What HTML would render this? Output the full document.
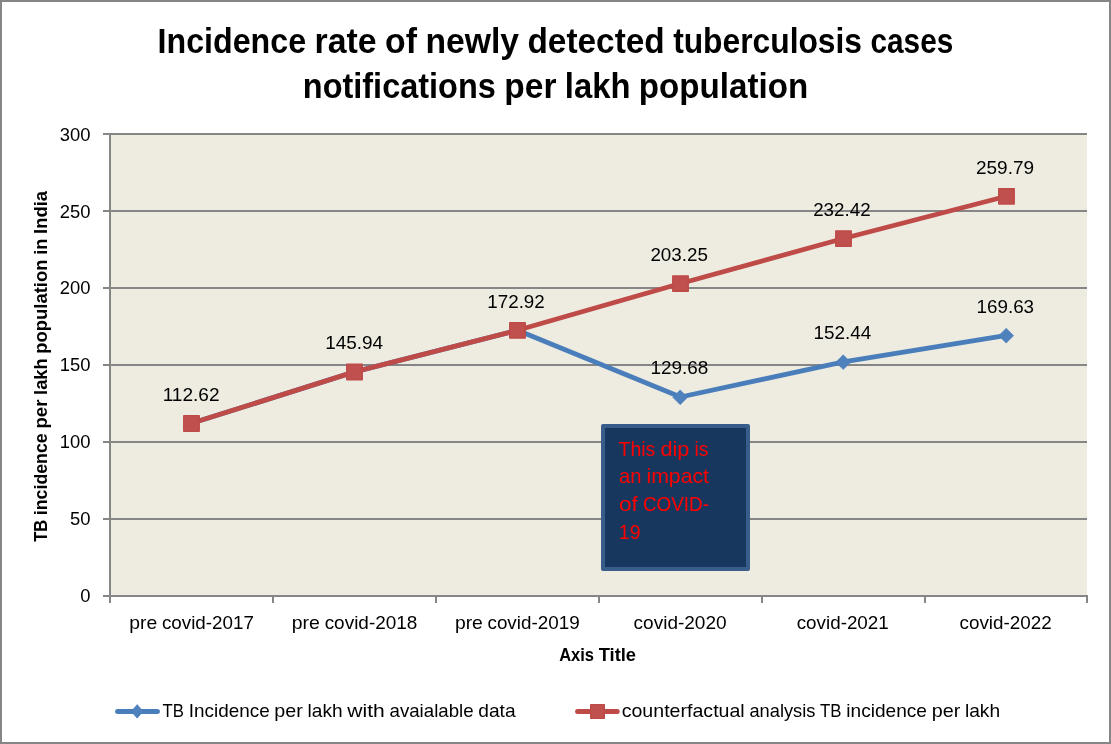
<!DOCTYPE html>
<html lang="en"><head><meta charset="utf-8"><title>Incidence rate of newly detected tuberculosis cases</title>
<style>html,body{margin:0;padding:0;background:#fff;}svg{display:block;}text{font-family:"Liberation Sans",sans-serif;fill:#000;}.b{font-weight:bold;}</style></head><body>
<svg width="1111" height="744" viewBox="0 0 1111 744">
<rect x="0" y="0" width="1111" height="744" fill="#fff"/>
<rect x="1" y="1" width="1109" height="742" fill="none" stroke="#868686" stroke-width="2"/>
<rect x="110.0" y="134.0" width="977.0" height="462.0" fill="#EEECE1"/>
<line x1="103.0" y1="596.0" x2="1088.0" y2="596.0" stroke="#868686" stroke-width="2"/>
<line x1="103.0" y1="519.0" x2="1087.0" y2="519.0" stroke="#868686" stroke-width="2"/>
<line x1="103.0" y1="442.0" x2="1087.0" y2="442.0" stroke="#868686" stroke-width="2"/>
<line x1="103.0" y1="365.0" x2="1087.0" y2="365.0" stroke="#868686" stroke-width="2"/>
<line x1="103.0" y1="288.0" x2="1087.0" y2="288.0" stroke="#868686" stroke-width="2"/>
<line x1="103.0" y1="211.0" x2="1087.0" y2="211.0" stroke="#868686" stroke-width="2"/>
<line x1="103.0" y1="134.0" x2="1087.0" y2="134.0" stroke="#868686" stroke-width="2"/>
<line x1="110.0" y1="133.0" x2="110.0" y2="603.0" stroke="#868686" stroke-width="2"/>
<line x1="273.00" y1="596.0" x2="273.00" y2="603.0" stroke="#868686" stroke-width="2"/>
<line x1="436.00" y1="596.0" x2="436.00" y2="603.0" stroke="#868686" stroke-width="2"/>
<line x1="599.00" y1="596.0" x2="599.00" y2="603.0" stroke="#868686" stroke-width="2"/>
<line x1="762.00" y1="596.0" x2="762.00" y2="603.0" stroke="#868686" stroke-width="2"/>
<line x1="925.00" y1="596.0" x2="925.00" y2="603.0" stroke="#868686" stroke-width="2"/>
<line x1="1087.00" y1="596.0" x2="1087.00" y2="603.0" stroke="#868686" stroke-width="2"/>
<text class="b" y="52.7" font-size="35"><tspan x="157.60" textLength="148.48" lengthAdjust="spacingAndGlyphs">Incidence</tspan> <tspan x="314.55" textLength="62.02" lengthAdjust="spacingAndGlyphs">rate</tspan> <tspan x="385.00" textLength="31.90" lengthAdjust="spacingAndGlyphs">of</tspan> <tspan x="425.44" textLength="93.59" lengthAdjust="spacingAndGlyphs">newly</tspan> <tspan x="527.49" textLength="137.19" lengthAdjust="spacingAndGlyphs">detected</tspan> <tspan x="673.14" textLength="188.92" lengthAdjust="spacingAndGlyphs">tuberculosis</tspan> <tspan x="870.54" textLength="82.66" lengthAdjust="spacingAndGlyphs">cases</tspan></text>
<text class="b" y="97.9" font-size="35"><tspan x="302.80" textLength="193.05" lengthAdjust="spacingAndGlyphs">notifications</tspan> <tspan x="504.29" textLength="52.14" lengthAdjust="spacingAndGlyphs">per</tspan> <tspan x="564.85" textLength="65.58" lengthAdjust="spacingAndGlyphs">lakh</tspan> <tspan x="638.87" textLength="169.43" lengthAdjust="spacingAndGlyphs">population</tspan></text>
<text x="80.16" y="601.5" font-size="19.0" textLength="10.23" lengthAdjust="spacingAndGlyphs">0</text>
<text x="69.93" y="524.7" font-size="19.0" textLength="20.46" lengthAdjust="spacingAndGlyphs">50</text>
<text x="59.70" y="447.9" font-size="19.0" textLength="30.69" lengthAdjust="spacingAndGlyphs">100</text>
<text x="59.70" y="371.2" font-size="19.0" textLength="30.69" lengthAdjust="spacingAndGlyphs">150</text>
<text x="59.70" y="294.4" font-size="19.0" textLength="30.69" lengthAdjust="spacingAndGlyphs">200</text>
<text x="59.70" y="217.6" font-size="19.0" textLength="30.69" lengthAdjust="spacingAndGlyphs">250</text>
<text x="59.70" y="140.8" font-size="19.0" textLength="30.69" lengthAdjust="spacingAndGlyphs">300</text>
<text y="628.7" font-size="19.0"><tspan x="129.30" textLength="27.94" lengthAdjust="spacingAndGlyphs">pre</tspan> <tspan x="161.89" textLength="92.12" lengthAdjust="spacingAndGlyphs">covid-2017</tspan></text>
<text y="628.7" font-size="19.0"><tspan x="291.80" textLength="28.14" lengthAdjust="spacingAndGlyphs">pre</tspan> <tspan x="324.63" textLength="92.78" lengthAdjust="spacingAndGlyphs">covid-2018</tspan></text>
<text y="628.7" font-size="19.0"><tspan x="454.90" textLength="27.94" lengthAdjust="spacingAndGlyphs">pre</tspan> <tspan x="487.49" textLength="92.12" lengthAdjust="spacingAndGlyphs">covid-2019</tspan></text>
<text y="628.7" font-size="19.0"><tspan x="633.60" textLength="93.00" lengthAdjust="spacingAndGlyphs">covid-2020</tspan></text>
<text y="628.7" font-size="19.0"><tspan x="796.70" textLength="92.10" lengthAdjust="spacingAndGlyphs">covid-2021</tspan></text>
<text y="628.7" font-size="19.0"><tspan x="959.50" textLength="92.10" lengthAdjust="spacingAndGlyphs">covid-2022</tspan></text>
<text class="b" y="660.8" font-size="19"><tspan x="559.20" textLength="34.87" lengthAdjust="spacingAndGlyphs">Axis</tspan> <tspan x="598.67" textLength="37.42" lengthAdjust="spacingAndGlyphs">Title</tspan></text>
<text class="b" transform="translate(46.9 541.8) rotate(-90)" y="0" font-size="19"><tspan x="0.00" textLength="21.93" lengthAdjust="spacingAndGlyphs">TB</tspan> <tspan x="26.61" textLength="81.91" lengthAdjust="spacingAndGlyphs">incidence</tspan> <tspan x="113.22" textLength="28.99" lengthAdjust="spacingAndGlyphs">per</tspan> <tspan x="146.89" textLength="36.46" lengthAdjust="spacingAndGlyphs">lakh</tspan> <tspan x="188.04" textLength="94.20" lengthAdjust="spacingAndGlyphs">population</tspan> <tspan x="286.94" textLength="16.23" lengthAdjust="spacingAndGlyphs">in</tspan> <tspan x="307.88" textLength="43.05" lengthAdjust="spacingAndGlyphs">India</tspan></text>
<polyline points="191.50,423.33 354.50,371.91 517.50,330.28 680.50,397.00 843.50,361.89 1006.50,335.36" fill="none" stroke="#4A7EBB" stroke-width="4.8" stroke-linejoin="round" stroke-linecap="round"/>
<path d="M191.20 416.23L198.60 423.63L191.20 431.03L183.80 423.63Z" fill="#4F81BD" stroke="#4A7EBB" stroke-width="0.6" stroke-linejoin="round"/>
<path d="M354.20 364.81L361.60 372.21L354.20 379.61L346.80 372.21Z" fill="#4F81BD" stroke="#4A7EBB" stroke-width="0.6" stroke-linejoin="round"/>
<path d="M517.20 323.18L524.60 330.58L517.20 337.98L509.80 330.58Z" fill="#4F81BD" stroke="#4A7EBB" stroke-width="0.6" stroke-linejoin="round"/>
<path d="M680.20 389.90L687.60 397.30L680.20 404.70L672.80 397.30Z" fill="#4F81BD" stroke="#4A7EBB" stroke-width="0.6" stroke-linejoin="round"/>
<path d="M843.20 354.79L850.60 362.19L843.20 369.59L835.80 362.19Z" fill="#4F81BD" stroke="#4A7EBB" stroke-width="0.6" stroke-linejoin="round"/>
<path d="M1006.20 328.26L1013.60 335.66L1006.20 343.06L998.80 335.66Z" fill="#4F81BD" stroke="#4A7EBB" stroke-width="0.6" stroke-linejoin="round"/>
<polyline points="191.50,423.33 354.50,371.91 517.50,330.28 680.50,283.49 843.50,238.48 1006.50,196.24" fill="none" stroke="#BE4B48" stroke-width="4.8" stroke-linejoin="round" stroke-linecap="round"/>
<rect x="183.80" y="415.73" width="15.4" height="15.4" fill="#C0504D" stroke="#BE4B48" stroke-width="1.5" stroke-linejoin="round"/>
<rect x="346.80" y="364.31" width="15.4" height="15.4" fill="#C0504D" stroke="#BE4B48" stroke-width="1.5" stroke-linejoin="round"/>
<rect x="509.80" y="322.68" width="15.4" height="15.4" fill="#C0504D" stroke="#BE4B48" stroke-width="1.5" stroke-linejoin="round"/>
<rect x="672.80" y="275.89" width="15.4" height="15.4" fill="#C0504D" stroke="#BE4B48" stroke-width="1.5" stroke-linejoin="round"/>
<rect x="835.80" y="230.88" width="15.4" height="15.4" fill="#C0504D" stroke="#BE4B48" stroke-width="1.5" stroke-linejoin="round"/>
<rect x="998.80" y="188.64" width="15.4" height="15.4" fill="#C0504D" stroke="#BE4B48" stroke-width="1.5" stroke-linejoin="round"/>
<text y="400.9" font-size="19.0"><tspan x="162.70" textLength="56.89" lengthAdjust="spacingAndGlyphs">112.62</tspan></text>
<text y="349.4" font-size="19.0"><tspan x="325.20" textLength="57.99" lengthAdjust="spacingAndGlyphs">145.94</tspan></text>
<text y="308.1" font-size="19.0"><tspan x="487.30" textLength="57.49" lengthAdjust="spacingAndGlyphs">172.92</tspan></text>
<text y="260.9" font-size="19.0"><tspan x="650.40" textLength="57.49" lengthAdjust="spacingAndGlyphs">203.25</tspan></text>
<text y="215.6" font-size="19.0"><tspan x="813.20" textLength="57.39" lengthAdjust="spacingAndGlyphs">232.42</tspan></text>
<text y="173.8" font-size="19.0"><tspan x="976.00" textLength="58.09" lengthAdjust="spacingAndGlyphs">259.79</tspan></text>
<text y="373.9" font-size="19.0"><tspan x="650.40" textLength="57.89" lengthAdjust="spacingAndGlyphs">129.68</tspan></text>
<text y="338.7" font-size="19.0"><tspan x="813.40" textLength="57.79" lengthAdjust="spacingAndGlyphs">152.44</tspan></text>
<text y="312.5" font-size="19.0"><tspan x="976.50" textLength="57.59" lengthAdjust="spacingAndGlyphs">169.63</tspan></text>
<rect x="603" y="426" width="145" height="143" fill="#17375E" stroke="#385D8A" stroke-width="4" stroke-linejoin="round"/>
<text y="455.60" font-size="21" style="fill:#FF0000"><tspan x="618.50" textLength="36.87" lengthAdjust="spacingAndGlyphs">This</tspan> <tspan x="660.48" textLength="28.91" lengthAdjust="spacingAndGlyphs">dip</tspan> <tspan x="694.50" textLength="14.02" lengthAdjust="spacingAndGlyphs">is</tspan></text>
<text y="483.45" font-size="21" style="fill:#FF0000"><tspan x="618.90" textLength="22.50" lengthAdjust="spacingAndGlyphs">an</tspan> <tspan x="646.47" textLength="62.55" lengthAdjust="spacingAndGlyphs">impact</tspan></text>
<text y="511.30" font-size="21" style="fill:#FF0000"><tspan x="618.90" textLength="18.84" lengthAdjust="spacingAndGlyphs">of</tspan> <tspan x="642.90" textLength="66.09" lengthAdjust="spacingAndGlyphs">COVID-</tspan></text>
<text y="539.15" font-size="21" style="fill:#FF0000"><tspan x="618.80" textLength="21.69" lengthAdjust="spacingAndGlyphs">19</tspan></text>
<line x1="117.6" y1="711.4" x2="157.4" y2="711.4" stroke="#4A7EBB" stroke-width="5" stroke-linecap="round"/>
<path d="M137.2 704.6L143.2 711.4L137.2 718.2L131.2 711.4Z" fill="#4F81BD" stroke="#4A7EBB" stroke-width="0.6" stroke-linejoin="round"/>
<text y="716.7" font-size="19.0"><tspan x="162.60" textLength="21.41" lengthAdjust="spacingAndGlyphs">TB</tspan> <tspan x="188.71" textLength="80.96" lengthAdjust="spacingAndGlyphs">Incidence</tspan> <tspan x="274.38" textLength="28.50" lengthAdjust="spacingAndGlyphs">per</tspan> <tspan x="307.56" textLength="35.07" lengthAdjust="spacingAndGlyphs">lakh</tspan> <tspan x="347.37" textLength="37.45" lengthAdjust="spacingAndGlyphs">with</tspan> <tspan x="389.51" textLength="84.08" lengthAdjust="spacingAndGlyphs">avaialable</tspan> <tspan x="478.27" textLength="37.31" lengthAdjust="spacingAndGlyphs">data</tspan></text>
<line x1="577.6" y1="711.4" x2="617.2" y2="711.4" stroke="#BE4B48" stroke-width="5" stroke-linecap="round"/>
<rect x="590.7" y="704.7" width="13.6" height="13.6" fill="#C0504D" stroke="#BE4B48" stroke-width="1.4" stroke-linejoin="round"/>
<text y="716.7" font-size="19.0"><tspan x="621.70" textLength="123.03" lengthAdjust="spacingAndGlyphs">counterfactual</tspan> <tspan x="749.45" textLength="65.95" lengthAdjust="spacingAndGlyphs">analysis</tspan> <tspan x="820.11" textLength="21.46" lengthAdjust="spacingAndGlyphs">TB</tspan> <tspan x="846.28" textLength="80.70" lengthAdjust="spacingAndGlyphs">incidence</tspan> <tspan x="931.68" textLength="28.57" lengthAdjust="spacingAndGlyphs">per</tspan> <tspan x="964.95" textLength="35.15" lengthAdjust="spacingAndGlyphs">lakh</tspan></text>
</svg></body></html>
